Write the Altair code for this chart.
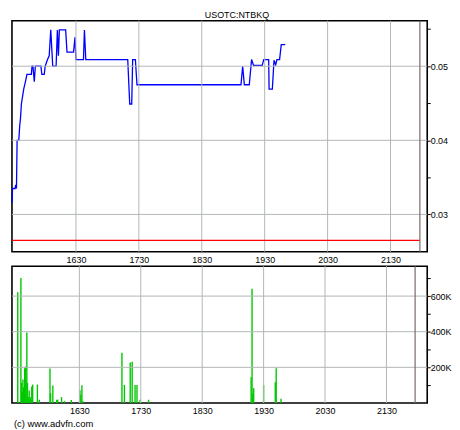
import altair as alt
import pandas as pd

TITLE = "USOTC:NTBKQ"
FOOTER = "(c) www.advfn.com"

# time in minutes since midnight (UK time)
price_t = [929.2, 929.5, 932.0, 932.5, 933.3, 933.9, 935.5, 936.4, 937.1, 938.0,
           940.2, 941.8, 943.3, 947.5, 948.1, 949.0, 950.3, 951.3, 956.6, 957.5,
           959.8, 960.7, 962.9, 964.5, 966.0, 967.9, 971.1, 972.3, 973.3, 974.2,
           980.2, 981.5, 987.7, 989.1, 990.0, 997.2, 998.1, 999.4, 1039.4, 1041.3,
           1043.2, 1044.1, 1046.7, 1048.2, 1147.4, 1149.0, 1150.6, 1155.3, 1157.5, 1159.4,
           1167.6, 1169.1, 1173.8, 1174.2, 1177.3, 1178.9, 1180.5, 1181.7, 1184.2, 1185.8,
           1189.6]
price_v = [0.0316, 0.0335, 0.0335, 0.0340, 0.0335, 0.0400, 0.0400, 0.0420, 0.0429, 0.0449,
           0.0469, 0.0479, 0.0489, 0.0489, 0.0500, 0.0500, 0.0479, 0.0500, 0.0500, 0.0489,
           0.0489, 0.0500, 0.0509, 0.0514, 0.0549, 0.0500, 0.0500, 0.0549, 0.0514, 0.0549,
           0.0549, 0.0519, 0.0519, 0.0539, 0.0509, 0.0509, 0.0549, 0.0509, 0.0509, 0.0449,
           0.0449, 0.0509, 0.0509, 0.0475, 0.0475, 0.0500, 0.0475, 0.0475, 0.0509, 0.0501,
           0.0501, 0.0509, 0.0509, 0.0469, 0.0469, 0.0508, 0.0502, 0.0509, 0.0509, 0.0529,
           0.0529]

vol_t = [929.8, 932.9, 933.6, 934.3, 934.9, 935.5, 936.2, 936.6, 937.1, 937.7,
         938.7, 939.3, 940.0, 940.6, 941.0, 941.9, 942.5, 943.5, 944.4, 949.0,
         950.9, 961.3, 961.9, 964.1, 967.9, 968.8, 972.6, 975.5, 982.1, 990.6,
         991.5, 992.5, 993.1, 1031.6, 1034.0, 1039.7, 1041.6, 1044.4, 1046.3, 1049.3,
         1057.6, 1157.8, 1158.7, 1159.4, 1160.3, 1170.0, 1181.4, 1182.3, 1187.0]
vol_v = [622000, 702000, 112000, 60000, 131000, 88000, 60000, 193000, 200000, 204000,
         396000, 112000, 33000, 20000, 70000, 33000, 20000, 92000, 103000, 103000,
         18000, 193000, 55000, 98000, 18000, 18000, 33000, 10000, 16000, 72000,
         46000, 100000, 10000, 282000, 101000, 227000, 232000, 101000, 101000, 18000,
         18000, 144000, 641000, 50000, 83000, 101000, 116000, 195000, 24000]

hour_ticks = [990, 1050, 1110, 1170, 1230, 1290]
price_grid = [0.03, 0.04, 0.05]
price_ticks = [0.03, 0.035, 0.04, 0.045, 0.05, 0.055]
vol_grid = [200000, 400000, 600000]
vol_ticks = [100000, 200000, 300000, 400000, 500000, 600000, 700000]
ref_price = 0.0265
close_t = 1318
x_start = 929
x_end = 1325

FONT = "Liberation Sans"
GRID = "#b2b6b6"
W = 419
H1 = 233
H2 = 138

xscale = alt.Scale(domain=[x_start, x_end], nice=False, zero=False)
pscale = alt.Scale(domain=[0.02497, 0.05613], nice=False, zero=False)
vscale = alt.Scale(domain=[0, 768000], nice=False, zero=False)

x_axis = alt.Axis(values=hour_ticks,
                  labelExpr="'' + (floor(datum.value/60)*100 + datum.value%60)",
                  ticks=False, domain=False, grid=False, labelPadding=4,
                  labelFontSize=9, labelFont=FONT, labelColor="black", title=None)
p_axis = alt.Axis(orient="right", values=price_ticks,
                  labelExpr="(round(datum.value*1000) % 10 == 0) ? format(datum.value, '.2f') : ''",
                  domain=False, grid=False, ticks=True, tickSize=3, tickColor="black",
                  labelPadding=0, labelFontSize=9, labelFont=FONT, labelColor="black", title=None)
v_axis = alt.Axis(orient="right", values=vol_ticks,
                  labelExpr="(datum.value % 200000 == 0) ? (datum.value/1000) + 'K' : ''",
                  domain=False, grid=False, ticks=True, tickSize=3, tickColor="black",
                  labelPadding=0, labelFontSize=9, labelFont=FONT, labelColor="black", title=None)

hours_df = pd.DataFrame({"t": hour_ticks})
price_df = pd.DataFrame({"t": price_t, "p": price_v})
vol_df = pd.DataFrame({"t": vol_t, "v": vol_v})

vgrid = alt.Chart(hours_df).mark_rule(color=GRID, strokeWidth=1).encode(
    x=alt.X("t:Q", scale=xscale, axis=x_axis))
hgrid_p = alt.Chart(pd.DataFrame({"p": price_grid})).mark_rule(color=GRID, strokeWidth=1).encode(
    y=alt.Y("p:Q", scale=pscale, axis=p_axis))
hgrid_v = alt.Chart(pd.DataFrame({"v": vol_grid})).mark_rule(color=GRID, strokeWidth=1).encode(
    y=alt.Y("v:Q", scale=vscale, axis=v_axis))
close_line = alt.Chart(pd.DataFrame({"t": [close_t]})).mark_rule(color="#7a6a6a", strokeWidth=1.2).encode(
    x=alt.X("t:Q", scale=xscale, axis=x_axis))
red_line = alt.Chart(pd.DataFrame({"t": [x_start], "t1": [close_t], "p": [ref_price]})).mark_rule(
    color="#ff0000", strokeWidth=1.5).encode(
    x=alt.X("t:Q", scale=xscale, axis=x_axis), x2="t1:Q",
    y=alt.Y("p:Q", scale=pscale, axis=p_axis))
line = alt.Chart(price_df).mark_line(color="#0000ff", strokeWidth=1.3).encode(
    x=alt.X("t:Q", scale=xscale, axis=x_axis),
    y=alt.Y("p:Q", scale=pscale, axis=p_axis))
title = alt.Chart(pd.DataFrame({"s": [TITLE]})).mark_text(
    font=FONT, fontSize=9, color="black", align="center", baseline="middle").encode(
    x=alt.value(227), y=alt.value(-6), text="s:N")

bars = alt.Chart(vol_df).mark_bar(color="#00c800", size=1.4).encode(
    x=alt.X("t:Q", scale=xscale, axis=x_axis),
    y=alt.Y("v:Q", scale=vscale, axis=v_axis))
footer = alt.Chart(pd.DataFrame({"s": [FOOTER]})).mark_text(
    font=FONT, fontSize=9.5, color="black", align="left", baseline="middle").encode(
    x=alt.value(2), y=alt.value(H2 + 21), text="s:N")

top = alt.layer(line, vgrid, hgrid_p, red_line, close_line, title).properties(width=W, height=H1)
bottom = alt.layer(bars, vgrid, hgrid_v, close_line, footer).properties(width=W, height=H2)

chart = alt.vconcat(top, bottom, spacing=14.6, bounds="flush").properties(
    padding={"left": 0, "top": 0, "right": 0, "bottom": 0},
    background="white",
).configure_view(stroke="black", strokeWidth=1.6)

chart.save("out.html", embed_options={"renderer": "svg", "actions": False})
